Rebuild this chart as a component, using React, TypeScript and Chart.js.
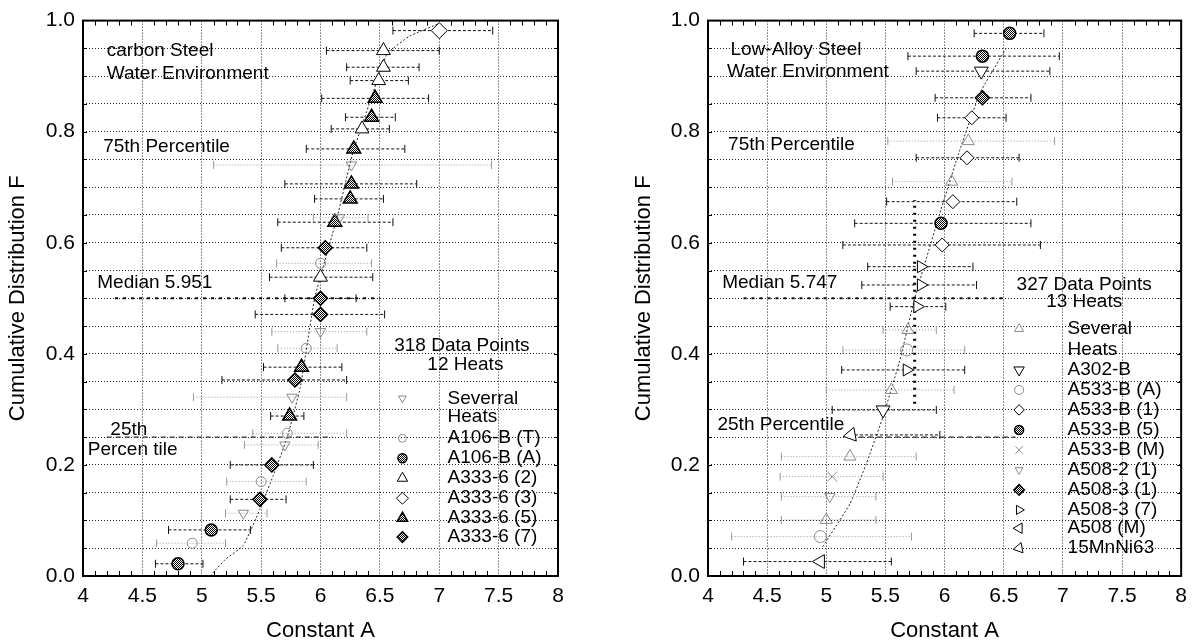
import React, { useEffect, useRef } from 'react';
import { Chart, registerables, PointElement } from 'chart.js';
Chart.register(...registerables);

// Row = [Constant A, cumulative F, lower A, upper A]
type Row = [number, number, number, number];
type Pt = [number, number];

// ---------------- Carbon steel (left panel) ----------------
const csSeveral: Row[] = [
  [6.26, 0.74, 5.10, 7.44],
  [6.16, 0.645, 5.94, 6.40],
  [6.00, 0.44, 5.59, 6.39],
  [5.76, 0.322, 4.93, 6.22],
  [5.70, 0.236, 5.36, 5.98],
  [5.35, 0.113, 5.20, 5.55],
];
const csA106T: Row[] = [
  [6.00, 0.563, 5.63, 6.43],
  [5.88, 0.41, 5.64, 6.14],
  [5.72, 0.257, 5.43, 6.22],
  [5.50, 0.17, 5.21, 5.88],
  [4.92, 0.059, 4.62, 5.20],
];
const csA106A: Row[] = [
  [5.08, 0.083, 4.72, 5.41],
  [4.80, 0.022, 4.61, 5.01],
];
const csA333_2: Row[] = [
  [6.53, 0.946, 6.05, 7.00],
  [6.53, 0.916, 6.22, 6.83],
  [6.49, 0.892, 6.25, 6.74],
  [6.35, 0.805, 6.09, 6.58],
  [6.00, 0.538, 5.57, 6.44],
];
const csA333_3: Row[] = [[7.00, 0.982, 6.61, 7.45]];
const csA333_5: Row[] = [
  [6.46, 0.860, 6.01, 6.91],
  [6.43, 0.826, 6.21, 6.63],
  [6.28, 0.769, 5.88, 6.71],
  [6.26, 0.706, 5.70, 6.81],
  [6.25, 0.679, 5.95, 6.53],
  [6.12, 0.637, 5.64, 6.61],
  [5.84, 0.376, 5.52, 6.18],
  [5.74, 0.288, 5.58, 5.86],
];
const csA333_7: Row[] = [
  [6.04, 0.591, 5.67, 6.39],
  [6.00, 0.500, 5.70, 6.30],
  [6.00, 0.471, 5.45, 6.54],
  [5.785, 0.353, 5.17, 6.22],
  [5.59, 0.200, 5.24, 5.94],
  [5.49, 0.138, 5.24, 5.71],
];
const csFit: Pt[] = [
  [5.07, 0.0], [5.2, 0.03], [5.35, 0.055], [5.49, 0.12], [5.6, 0.18], [5.72, 0.25],
  [5.83, 0.34], [5.951, 0.5], [6.14, 0.646], [6.27, 0.76], [6.42, 0.856],
  [6.56, 0.94], [6.75, 0.972], [7.0, 0.995],
];
const csMedian: Pt[] = [[4.27, 0.5], [6.5, 0.5]];
const cs25th: Pt[] = [[4.2, 0.25], [6.1, 0.25]];

// ---------------- Low-alloy steel (right panel) ----------------
const laSeveral: Row[] = [
  [6.20, 0.783, 5.52, 6.93],
  [6.06, 0.71, 5.56, 6.57],
  [5.69, 0.443, 5.48, 5.93],
  [5.55, 0.335, 5.00, 6.08],
  [5.20, 0.215, 4.62, 5.76],
  [5.00, 0.101, 4.62, 5.42],
];
const laA302B: Row[] = [
  [6.31, 0.909, 5.76, 6.89],
  [5.48, 0.299, 5.05, 5.93],
];
const laA533BA: Row[] = [
  [5.68, 0.407, 5.14, 6.17],
  [4.95, 0.071, 4.20, 5.72],
];
const laA533B1: Row[] = [
  [6.23, 0.825, 5.94, 6.52],
  [6.19, 0.753, 5.76, 6.63],
  [6.07, 0.674, 5.51, 6.61],
  [5.98, 0.596, 5.14, 6.81],
];
const laA533B5: Row[] = [
  [6.55, 0.977, 6.25, 6.84],
  [6.32, 0.936, 5.69, 6.97],
  [5.97, 0.635, 5.24, 6.73],
];
const laA533BM: Row[] = [[5.05, 0.179, 4.61, 5.48]];
const laA5082_1: Row[] = [[5.03, 0.143, 4.62, 5.42]];
const laA5083_1: Row[] = [[6.32, 0.861, 5.92, 6.73]];
const laA5083_7: Row[] = [
  [5.80, 0.557, 5.35, 6.24],
  [5.80, 0.524, 5.30, 6.27],
  [5.77, 0.485, 5.54, 6.01],
  [5.68, 0.371, 5.13, 6.17],
];
const laA508M: Row[] = [[4.95, 0.026, 4.30, 5.55]];
const la15MnNi63: Row[] = [[5.21, 0.254, 5.20, 5.96]];
const laFit: Pt[] = [
  [4.97, 0.053], [5.2, 0.13], [5.34, 0.203], [5.48, 0.287], [5.63, 0.395],
  [5.747, 0.5], [5.97, 0.66], [6.13, 0.768], [6.30, 0.87], [6.52, 0.95],
];
const laMedian: Pt[] = [[4.3, 0.5], [6.49, 0.5]];
const laMedianV: Pt[] = [[5.747, 0.31], [5.747, 0.677]];
const la25th: Pt[] = [[5.2, 0.25], [6.6, 0.25]];

const xTicks = [4, 4.5, 5, 5.5, 6, 6.5, 7, 7.5, 8];

const FONT = '"Liberation Sans", Arial, Helvetica, sans-serif';

type Kind = 'open' | 'hatch' | 'faint';
type Series = { rows: Row[]; style: string; rot: number; r: number; kind: Kind; label: string[] };
type Note = { text: string; a: number; f: number; align: CanvasTextAlign };
type Panel = {
  series: Series[];
  fit: Pt[];
  lines: { pts: Pt[]; dash: number[]; width: number; color: string }[];
  notes: Note[];
  legendSymA: number;
  legendTextA: number;
  legendF: number[];
  canvasW: number;
  axisW: number;
  padRight: number;
};

const leftPanel: Panel = {
  series: [
    { rows: csSeveral, style: 'triangle', rot: 180, r: 6, kind: 'faint', label: ['Severral', 'Heats'] },
    { rows: csA106T, style: 'circle', rot: 0, r: 5, kind: 'faint', label: ['A106-B (T)'] },
    { rows: csA106A, style: 'circle', rot: 0, r: 6, kind: 'hatch', label: ['A106-B (A)'] },
    { rows: csA333_2, style: 'triangle', rot: 0, r: 8, kind: 'open', label: ['A333-6 (2)'] },
    { rows: csA333_3, style: 'rectRot', rot: 0, r: 8, kind: 'open', label: ['A333-6 (3)'] },
    { rows: csA333_5, style: 'triangle', rot: 0, r: 8, kind: 'hatch', label: ['A333-6 (5)'] },
    { rows: csA333_7, style: 'rectRot', rot: 0, r: 7, kind: 'hatch', label: ['A333-6 (7)'] },
  ],
  fit: csFit,
  lines: [
    { pts: csMedian, dash: [3, 5], width: 2, color: '#111' },
    { pts: cs25th, dash: [5, 4], width: 1.2, color: '#333' },
  ],
  notes: [
    { text: 'carbon Steel', a: 4.2, f: 0.946, align: 'left' },
    { text: 'Water Environment', a: 4.2, f: 0.905, align: 'left' },
    { text: '75th Percentile', a: 4.17, f: 0.772, align: 'left' },
    { text: 'Median 5.951', a: 4.12, f: 0.528, align: 'left' },
    { text: '25th', a: 4.23, f: 0.263, align: 'left' },
    { text: 'Percen tile', a: 4.04, f: 0.227, align: 'left' },
    { text: '318 Data Points', a: 7.19, f: 0.415, align: 'center' },
    { text: '12 Heats', a: 7.22, f: 0.38, align: 'center' },
  ],
  legendSymA: 6.69,
  legendTextA: 7.07,
  legendF: [0.320, 0.286, 0.248, 0.212, 0.176, 0.140, 0.104, 0.070],
  canvasW: 575,
  axisW: 83,
  padRight: 17,
};

const rightPanel: Panel = {
  series: [
    { rows: laSeveral, style: 'triangle', rot: 0, r: 7, kind: 'faint', label: ['Several', 'Heats'] },
    { rows: laA302B, style: 'triangle', rot: 180, r: 8, kind: 'open', label: ['A302-B'] },
    { rows: laA533BA, style: 'circle', rot: 0, r: 6, kind: 'faint', label: ['A533-B (A)'] },
    { rows: laA533B1, style: 'rectRot', rot: 0, r: 7, kind: 'open', label: ['A533-B (1)'] },
    { rows: laA533B5, style: 'circle', rot: 0, r: 6, kind: 'hatch', label: ['A533-B (5)'] },
    { rows: laA533BM, style: 'crossRot', rot: 0, r: 7, kind: 'faint', label: ['A533-B (M)'] },
    { rows: laA5082_1, style: 'triangle', rot: 180, r: 6, kind: 'faint', label: ['A508-2 (1)'] },
    { rows: laA5083_1, style: 'rectRot', rot: 0, r: 7, kind: 'hatch', label: ['A508-3 (1)'] },
    { rows: laA5083_7, style: 'triangle', rot: 90, r: 7, kind: 'open', label: ['A508-3 (7)'] },
    { rows: laA508M, style: 'triangle', rot: -90, r: 8, kind: 'open', label: ['A508 (M)'] },
    { rows: la15MnNi63, style: 'triangle', rot: 20, r: 8, kind: 'open', label: ['15MnNi63'] },
  ],
  fit: laFit,
  lines: [
    { pts: laMedian, dash: [3, 5], width: 2, color: '#111' },
    { pts: laMedianV, dash: [2, 5], width: 3, color: '#000' },
    { pts: la25th, dash: [5, 4], width: 1.2, color: '#333' },
  ],
  notes: [
    { text: 'Low-Alloy Steel', a: 4.19, f: 0.947, align: 'left' },
    { text: 'Water Environment', a: 4.16, f: 0.908, align: 'left' },
    { text: '75th Percentile', a: 4.17, f: 0.776, align: 'left' },
    { text: 'Median 5.747', a: 4.12, f: 0.528, align: 'left' },
    { text: '25th Percentile', a: 4.08, f: 0.272, align: 'left' },
    { text: '327 Data Points', a: 7.18, f: 0.524, align: 'center' },
    { text: '13 Heats', a: 7.18, f: 0.494, align: 'center' },
  ],
  legendSymA: 6.63,
  legendTextA: 7.04,
  legendF: [0.445, 0.407, 0.371, 0.335, 0.299, 0.263, 0.227, 0.191, 0.155, 0.119, 0.086, 0.050],
  canvasW: 569,
  axisW: 82,
  padRight: 13,
};

function makePattern(ctx: CanvasRenderingContext2D): CanvasPattern | string {
  const pc = document.createElement('canvas');
  pc.width = 2;
  pc.height = 2;
  const g = pc.getContext('2d');
  if (!g) return '#000';
  g.fillStyle = '#fff';
  g.fillRect(0, 0, 2, 2);
  g.fillStyle = '#000';
  g.fillRect(0, 0, 1, 1);
  g.fillRect(1, 1, 1, 1);
  return ctx.createPattern(pc, 'repeat') || '#000';
}

function pointColors(kind: Kind, pattern: CanvasPattern | string) {
  if (kind === 'hatch') return { bg: pattern, border: '#000', width: 1.5 };
  if (kind === 'open') return { bg: '#fff', border: '#000', width: 1 };
  return { bg: 'rgba(255,255,255,0)', border: '#8a8a8a', width: 1 };
}

function buildConfig(p: Panel, pattern: CanvasPattern | string): any {
  const datasets: any[] = [];
  p.series.forEach((s) => {
    const c = pointColors(s.kind, pattern);
    datasets.push({
      data: s.rows.map((r) => ({ x: r[0], y: r[1] })),
      showLine: false,
      pointStyle: s.style,
      pointRotation: s.rot,
      pointRadius: s.r,
      pointBackgroundColor: c.bg,
      pointBorderColor: c.border,
      pointBorderWidth: c.width,
      order: 0,
    });
  });
  p.series.forEach((s) => {
    const faint = s.kind === 'faint';
    const data: any[] = [];
    s.rows.forEach((r) => {
      data.push({ x: r[2], y: r[1] }, { x: r[3], y: r[1] }, { x: NaN, y: NaN });
    });
    datasets.push({
      data,
      showLine: true,
      spanGaps: false,
      borderColor: faint ? '#9a9a9a' : '#111',
      borderWidth: 1,
      borderDash: faint ? [1, 2] : [3, 2],
      pointStyle: 'line',
      pointRotation: 90,
      pointRadius: 4,
      pointBorderColor: faint ? '#9a9a9a' : '#111',
      pointBorderWidth: 1,
      order: 3,
    });
  });
  datasets.push({
    data: p.fit.map((q) => ({ x: q[0], y: q[1] })),
    showLine: true,
    borderColor: '#222',
    borderWidth: 1,
    borderDash: [2, 2],
    pointRadius: 0,
    tension: 0.12,
    order: 1,
  });
  p.lines.forEach((l) => {
    datasets.push({
      data: l.pts.map((q) => ({ x: q[0], y: q[1] })),
      showLine: true,
      borderColor: l.color,
      borderWidth: l.width,
      borderDash: l.dash,
      pointRadius: 0,
      order: 2,
    });
  });

  const tickFont = { family: FONT, size: 21 };
  const titleFont = { family: FONT, size: 22 };

  const decor = {
    id: 'decor',
    afterDraw(chart: any) {
      const { ctx, chartArea: a, scales } = chart;
      const xs = scales.x;
      const ys = scales.y;
      ctx.save();
      ctx.setLineDash([]);
      ctx.strokeStyle = '#000';
      ctx.lineWidth = 1;
      ctx.beginPath();
      for (let i = 41; i < 80; i++) {
        if (i % 5 === 0) continue;
        const px = Math.round(xs.getPixelForValue(i / 10)) + 0.5;
        ctx.moveTo(px, a.bottom);
        ctx.lineTo(px, a.bottom - 5);
        ctx.moveTo(px, a.top);
        ctx.lineTo(px, a.top + 5);
      }
      for (let j = 1; j < 20; j++) {
        const py = Math.round(ys.getPixelForValue(j / 20)) + 0.5;
        ctx.moveTo(a.left, py);
        ctx.lineTo(a.left + 4, py);
        ctx.moveTo(a.right, py);
        ctx.lineTo(a.right - 4, py);
      }
      ctx.stroke();
      ctx.lineWidth = 2;
      ctx.strokeRect(a.left, a.top, a.right - a.left, a.bottom - a.top);

      ctx.fillStyle = '#000';
      ctx.font = `19px ${FONT}`;
      ctx.textBaseline = 'middle';
      p.notes.forEach((n) => {
        ctx.textAlign = n.align;
        ctx.fillText(n.text, xs.getPixelForValue(n.a), ys.getPixelForValue(n.f));
      });

      // legend
      let row = 0;
      const symX = xs.getPixelForValue(p.legendSymA);
      const txtX = xs.getPixelForValue(p.legendTextA);
      p.series.forEach((s) => {
        const c = pointColors(s.kind, pattern);
        const py = ys.getPixelForValue(p.legendF[row]);
        const el: any = new (PointElement as any)({
          x: symX,
          y: py,
          options: {
            pointStyle: s.style,
            rotation: s.rot,
            radius: Math.max(4, s.r * 0.75),
            borderWidth: c.width,
            borderColor: c.border,
            backgroundColor: c.bg,
          },
        });
        el.draw(ctx);
        ctx.fillStyle = '#000';
        ctx.textAlign = 'left';
        ctx.textBaseline = 'middle';
        ctx.font = `19px ${FONT}`;
        s.label.forEach((t) => {
          ctx.fillText(t, txtX, ys.getPixelForValue(p.legendF[row]));
          row++;
        });
      });
      ctx.restore();
    },
  };

  return {
    type: 'scatter',
    data: { datasets },
    options: {
      responsive: false,
      animation: false,
      devicePixelRatio: 1,
      layout: { padding: { top: 20, right: p.padRight, left: 0, bottom: 0 } },
      plugins: { legend: { display: false }, tooltip: { enabled: false } },
      scales: {
        x: {
          type: 'linear',
          min: 4,
          max: 8,
          afterBuildTicks: (s: any) => {
            s.ticks = xTicks.map((v) => ({ value: v }));
          },
          ticks: {
            font: tickFont,
            color: '#000',
            padding: 8,
            autoSkip: false,
            maxRotation: 0,
            callback: (v: any) => String(v),
          },
          grid: { color: '#222', lineWidth: 1, drawTicks: false },
          border: { display: false, dash: [1, 2] },
          title: { display: true, text: 'Constant A', font: titleFont, color: '#000', padding: { top: 0, bottom: -2 } },
          afterFit: (s: any) => {
            s.height = 66;
          },
        },
        y: {
          type: 'linear',
          min: 0,
          max: 1,
          ticks: {
            stepSize: 0.05,
            autoSkip: false,
            font: tickFont,
            color: '#000',
            padding: 8,
            callback: (v: any) => {
              const k = Math.round(Number(v) * 100);
              return k % 20 === 0 ? (k / 100).toFixed(1) : '';
            },
          },
          grid: { color: '#222', lineWidth: 1, drawTicks: false },
          border: { display: false, dash: [1, 2] },
          title: {
            display: true,
            text: 'Cumulative Distribution F',
            font: titleFont,
            color: '#000',
            padding: { top: 5, bottom: 0 },
          },
          afterFit: (s: any) => {
            s.width = p.axisW;
          },
        },
      },
    },
    plugins: [decor],
  };
}

export default function App() {
  const leftRef = useRef<HTMLCanvasElement>(null);
  const rightRef = useRef<HTMLCanvasElement>(null);

  useEffect(() => {
    const charts: Chart[] = [];
    const pairs: [HTMLCanvasElement | null, Panel][] = [
      [leftRef.current, leftPanel],
      [rightRef.current, rightPanel],
    ];
    pairs.forEach(([cv, p]) => {
      if (!cv) return;
      const ctx = cv.getContext('2d');
      if (!ctx) return;
      const pattern = makePattern(ctx);
      charts.push(new Chart(cv, buildConfig(p, pattern)));
    });
    return () => charts.forEach((c) => c.destroy());
  }, []);

  return (
    <div style={{ position: 'absolute', left: 0, top: 0, width: 1195, height: 642, background: '#fff', overflow: 'hidden' }}>
      <canvas ref={leftRef} width={575} height={642} style={{ position: 'absolute', left: 0, top: 0, width: 575, height: 642 }} />
      <canvas ref={rightRef} width={569} height={642} style={{ position: 'absolute', left: 626, top: 0, width: 569, height: 642 }} />
    </div>
  );
}
